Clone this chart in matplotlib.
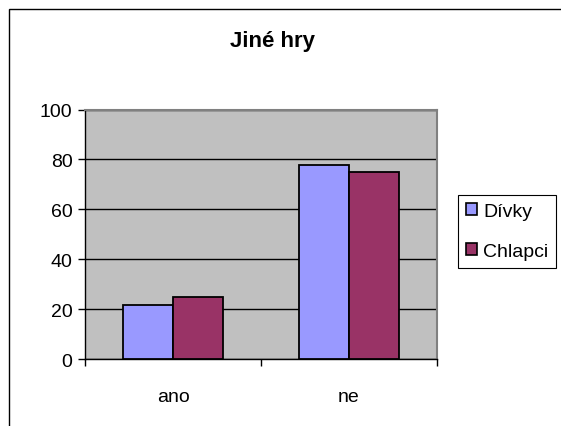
import matplotlib
matplotlib.use("Agg")
import matplotlib.pyplot as plt
import numpy as np
from matplotlib.patches import Rectangle, Patch

# Data
categories = ["ano", "ne"]
divky = [21.6, 77.6]
chlapci = [24.8, 75.0]
series_names = ["Dívky", "Chlapci"]
yticks = [0, 20, 40, 60, 80, 100]

plt.rcParams["font.family"] = ["Liberation Sans", "DejaVu Sans"]

W, H = 561, 427
fig = plt.figure(figsize=(W / 100, H / 100), dpi=100)

# plot area placed in pixel coordinates of the original
left, right, top, bottom = 85, 437, 110.5, 360.3
ax = fig.add_axes([left / W, 1 - bottom / H, (right - left) / W, (bottom - top) / H])
ax.set_facecolor("#C0C0C0")

x = np.arange(len(categories))
w = 1 / 3.5  # Excel gap width 150%
ax.bar(x - w / 2, divky, w, color="#9999FF", edgecolor="black", linewidth=1.3, zorder=3)
ax.bar(x + w / 2, chlapci, w, color="#993366", edgecolor="black", linewidth=1.3, zorder=3)

ax.set_xlim(-0.5, len(categories) - 0.5)
ax.set_ylim(0, 100)

# horizontal gridlines
ax.set_yticks(yticks)
ax.yaxis.grid(True, color="black", linewidth=1.0, zorder=1)
ax.set_axisbelow(True)
ax.tick_params(axis="y", direction="out", length=5, width=1, pad=4, labelsize=14)

ax.set_xticks(x)
ax.set_xticklabels(categories)
ax.set_xticks(np.arange(-0.5, len(categories)), minor=True)
ax.tick_params(axis="x", which="major", length=0, pad=21, labelsize=14)
ax.tick_params(axis="x", which="minor", direction="out", length=5, width=1)

for s in ("top", "right"):
    ax.spines[s].set_color("#808080")
    ax.spines[s].set_linewidth(1.5)
for s in ("left", "bottom"):
    ax.spines[s].set_color("black")
    ax.spines[s].set_linewidth(1.0)

fig.text(273 / W, 1 - 42 / H, "Jiné hry", ha="center", va="center",
         fontsize=16, fontweight="bold")

handles = [Patch(facecolor="#9999FF", edgecolor="black", linewidth=1.2),
           Patch(facecolor="#993366", edgecolor="black", linewidth=1.2)]
leg = fig.legend(handles, series_names, loc="upper left",
                 bbox_to_anchor=(458 / W, 1 - 196 / H), fontsize=14,
                 frameon=True, fancybox=False, framealpha=1,
                 handlelength=0.6, handleheight=0.6, handletextpad=0.3,
                 borderpad=0.4, labelspacing=1.2, borderaxespad=0)
leg.get_frame().set_edgecolor("black")
leg.get_frame().set_linewidth(0.8)

# outer chart frame (right and bottom edges are cut off in the original)
fig.patches.append(Rectangle((9 / W, -0.2), 2, 1.2 - 10 / H, transform=fig.transFigure,
                             fill=False, edgecolor="black", linewidth=1.0))

fig.savefig("out.png", dpi=100)
